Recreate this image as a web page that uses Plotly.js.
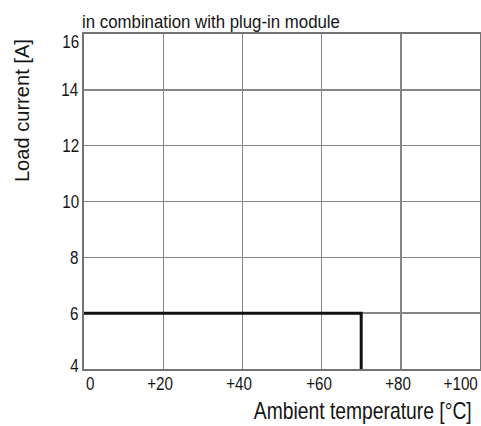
<!DOCTYPE html>
<html>
<head>
<meta charset="utf-8">
<script src="https://cdn.plot.ly/plotly-3.0.1.min.js"></script>
<style>
html,body{margin:0;padding:0;background:#fff;}
#chart{width:481px;height:426px;}
</style>
</head>
<body>
<div id="chart"></div>
<script>
// Data
const temperature = [0, 70, 70];
const loadCurrent = [6, 6, 4];
const xTickVals = [0, 20, 40, 60, 80, 100];
const xTickText = ['0', '+20', '+40', '+60', '+80', '+100'];
const yTickVals = [4, 6, 8, 10, 12, 14, 16];
const yTickText = ['4', '6', '8', '10', '12', '14', '16'];
const subtitle = 'in combination with plug-in module';
const xTitle = 'Ambient temperature [°C]';
const yTitle = 'Load current [A]';

const FONT = 'Liberation Sans, Arial, sans-serif';
const TXT = '#151515';

// per-annotation horizontal condensing (to mimic a condensed typeface)
const squeeze = [];
const annotations = [];
xTickVals.forEach((v, i) => {
  const last = xTickVals.length - 1;
  const xa = i === 0 ? 'left' : (i === last ? 'right' : 'center');
  annotations.push({
    x: v, xref: 'x', y: 0, yref: 'paper',
    text: xTickText[i], showarrow: false,
    xanchor: xa, xshift: (i === 0 || i === last) ? 0 : -3,
    yanchor: 'top', yshift: -2,
    font: {family: FONT, size: 19, color: TXT}
  });
  squeeze.push({scale: 0.8, origin: xa === 'left' ? 'start' : (xa === 'right' ? 'end' : 'middle')});
});
yTickVals.forEach((v, i) => {
  const last = yTickVals.length - 1;
  annotations.push({
    x: 0, xref: 'paper', y: v, yref: 'y',
    text: yTickText[i], showarrow: false,
    xanchor: 'right', xshift: -3,
    yanchor: 'middle', yshift: i === 0 ? 4 : (i === last ? -7 : 0),
    font: {family: FONT, size: 19, color: TXT}
  });
  squeeze.push({scale: 0.8, origin: 'end'});
});
annotations.push({
  x: 0, xref: 'paper', y: 1, yref: 'paper', text: subtitle, showarrow: false,
  xanchor: 'left', yanchor: 'bottom', xshift: -4, yshift: 0,
  font: {family: FONT, size: 19, color: TXT}
});
squeeze.push({width: 258, origin: 'start'});
annotations.push({
  x: 1, xref: 'paper', y: 0, yref: 'paper', text: xTitle, showarrow: false,
  xanchor: 'right', yanchor: 'top', xshift: -6, yshift: -27,
  font: {family: FONT, size: 23, color: TXT}
});
squeeze.push({width: 218, origin: 'end'});
annotations.push({
  x: 0, xref: 'paper', y: 1, yref: 'paper', text: yTitle, showarrow: false,
  textangle: -90, xanchor: 'center', yanchor: 'top', xshift: -62, yshift: -4,
  font: {family: FONT, size: 21, color: TXT}
});
squeeze.push({width: 143, origin: 'end'});

const trace = {
  x: temperature, y: loadCurrent, mode: 'lines', type: 'scatter',
  line: {color: '#111', width: 3}, hoverinfo: 'skip'
};

const layout = {
  width: 481, height: 426,
  margin: {l: 84, r: 1, t: 34, b: 57, pad: 0},
  paper_bgcolor: '#fff', plot_bgcolor: '#fff',
  showlegend: false,
  xaxis: {
    range: [0, 100], tickvals: xTickVals, showticklabels: false,
    showgrid: true, gridcolor: '#858585', gridwidth: 1.4,
    showline: true, mirror: true, linecolor: '#737373', linewidth: 1.6,
    zeroline: false, ticks: '', fixedrange: true
  },
  yaxis: {
    range: [4, 16], tickvals: yTickVals, showticklabels: false,
    showgrid: true, gridcolor: '#858585', gridwidth: 1.4,
    showline: true, mirror: true, linecolor: '#737373', linewidth: 1.6,
    zeroline: false, ticks: '', fixedrange: true
  },
  annotations: annotations
};

Plotly.newPlot('chart', [trace], layout, {displayModeBar: false, staticPlot: true}).then(gd => {
  gd.querySelectorAll('g.annotation').forEach(g => {
    const idx = +g.getAttribute('data-index');
    const sq = squeeze[idx];
    const t = g.querySelector('text.annotation-text');
    if (!sq || !t) return;
    const bb = t.getBBox();
    const s = sq.scale != null ? sq.scale : sq.width / bb.width;
    const ox = sq.origin === 'start' ? bb.x : (sq.origin === 'end' ? bb.x + bb.width : bb.x + bb.width / 2);
    const prev = t.getAttribute('transform') || '';
    t.setAttribute('transform', prev + ' translate(' + ox + ',0) scale(' + s + ',1) translate(' + (-ox) + ',0)');
  });
});
</script>
</body>
</html>
